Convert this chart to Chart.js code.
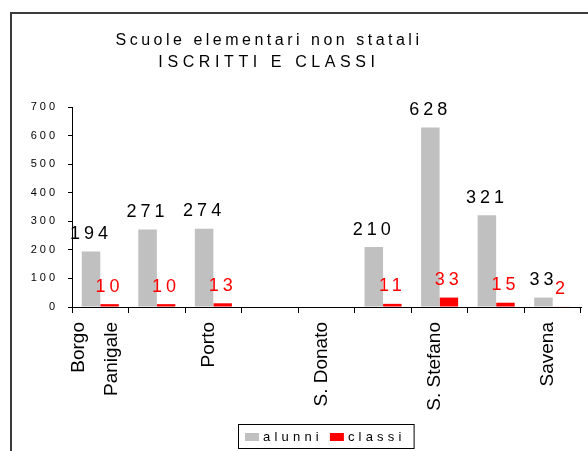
<!DOCTYPE html>
<html>
<head>
<meta charset="utf-8">
<script src="https://cdn.jsdelivr.net/npm/chart.js@4.4.0/dist/chart.umd.min.js"></script>
<style>
  html, body { margin: 0; padding: 0; background: #fff; }
</style>
</head>
<body>
<canvas id="chart" width="588" height="451"></canvas>
<script>
// Data
const categories = [['Borgo', 'Panigale'], 'Navile', 'Porto', 'Reno', 'S. Donato', 'S. Vitale', 'S. Stefano', 'Saragozza', 'Savena'];
const alunni = [194, 271, 274, null, null, 210, 628, 321, 33];
const classi = [10, 10, 13, null, null, 11, 33, 15, 2];
const series_names = ['alunni', 'classi'];
const title_lines = ['Scuole elementari non statali', 'ISCRITTI E CLASSI'];
const y_max = 700;
const y_step = 100;

// Styles
const font_family = "'Liberation Sans', Arial, sans-serif";
const bar_colors = ['#c0c0c0', '#ff0000'];
const label_colors = ['#000000', '#ff0000'];
const title_spacing = [3.5, 4.6];

Chart.defaults.font.family = font_family;
Chart.defaults.color = '#000';

// Frame, title, value labels and boxed legend, drawn the Excel way
const decor = {
    id: 'decor',
    beforeDraw(chart) {
        const ctx = chart.ctx;
        ctx.save();
        ctx.strokeStyle = '#3c3c3c';
        ctx.lineWidth = 2;
        ctx.beginPath();
        ctx.moveTo(11, chart.height);
        ctx.lineTo(11, 13);
        ctx.lineTo(chart.width, 13);
        ctx.stroke();

        ctx.fillStyle = '#000';
        ctx.font = '16px ' + font_family;
        ctx.textAlign = 'center';
        ctx.textBaseline = 'alphabetic';
        title_lines.forEach((line, i) => {
            ctx.letterSpacing = title_spacing[i] + 'px';
            ctx.fillText(line, 269, 45 + i * 22);
        });
        ctx.restore();
    },
    afterDraw(chart) {
        const ctx = chart.ctx;
        ctx.save();
        // value labels
        ctx.font = '18px ' + font_family;
        ctx.letterSpacing = '4px';
        ctx.textAlign = 'center';
        ctx.textBaseline = 'alphabetic';
        chart.data.datasets.forEach((ds, di) => {
            ctx.fillStyle = label_colors[di];
            chart.getDatasetMeta(di).data.forEach((bar, i) => {
                if (ds.data[i] === null) return;
                ctx.fillText(String(ds.data[i]), bar.x, bar.y - 12.5);
            });
        });

        // legend
        ctx.font = '13px ' + font_family;
        ctx.letterSpacing = '4.2px';
        ctx.textAlign = 'left';
        const box_x = 238, box_y = 424, box_h = 24;
        let x = box_x + 7;
        chart.data.datasets.forEach((ds, di) => {
            ctx.fillStyle = ds.backgroundColor;
            ctx.fillRect(x, box_y + 9, 14, 8);
            x += 18;
            ctx.fillStyle = '#000';
            ctx.fillText(ds.label, x, box_y + 17);
            x += ctx.measureText(ds.label).width + 7;
        });
        ctx.strokeStyle = '#000';
        ctx.lineWidth = 1;
        ctx.strokeRect(box_x + 0.5, box_y + 0.5, x - box_x + 1, box_h);
        ctx.restore();
    }
};

const chart_canvas = document.getElementById('chart');
const chart = new Chart(chart_canvas, {
    type: 'bar',
    data: {
        labels: categories,
        datasets: [
            { label: series_names[0], data: alunni, backgroundColor: bar_colors[0] },
            { label: series_names[1], data: classi, backgroundColor: bar_colors[1] },
        ],
    },
    options: {
        animation: false,
        responsive: false,
        devicePixelRatio: 1,
        barPercentage: 1,
        categoryPercentage: 0.655,
        layout: { padding: { left: 10, right: 7, top: 107, bottom: 30 } },
        plugins: {
            legend: { display: false },
            title: { display: false },
            tooltip: { enabled: false },
        },
        scales: {
            x: {
                afterFit: s => { s.height = 114; s.paddingLeft = 0; s.paddingRight = 0; },
                border: { color: '#000' },
                grid: { drawOnChartArea: false, tickLength: 6, color: '#000', offset: true },
                ticks: {
                    autoSkip: false,
                    minRotation: 90,
                    maxRotation: 90,
                    padding: 9,
                    labelOffset: -5,
                    font: { size: 19, lineHeight: 1.74 },
                    callback: function (value, index) {
                        return index % 2 === 0 ? this.getLabelForValue(value) : '';
                    },
                },
            },
            y: {
                min: 0,
                max: y_max,
                afterFit: s => { s.width = 62; },
                border: { color: '#000' },
                grid: { drawOnChartArea: false, tickLength: 4, color: '#000' },
                ticks: { stepSize: y_step, padding: 10, font: { size: 11 } },
            },
        },
    },
    plugins: [decor],
});

// spaced-out digits on the value axis
const y_scale = chart.scales.y;
const draw_y_labels = y_scale.drawLabels.bind(y_scale);
y_scale.drawLabels = function (area) {
    chart.ctx.save();
    chart.ctx.letterSpacing = '3px';
    draw_y_labels(area);
    chart.ctx.restore();
};

// center the two-line "Borgo Panigale" label on its tick
const x_scale = chart.scales.x;
if (typeof x_scale._computeLabelItems === 'function') {
    const compute_x_items = x_scale._computeLabelItems.bind(x_scale);
    x_scale._computeLabelItems = function (area) {
        const items = compute_x_items(area);
        if (items[0]) items[0].options.translation[0] -= 17;
        return items;
    };
}
chart.update();
</script>
</body>
</html>
